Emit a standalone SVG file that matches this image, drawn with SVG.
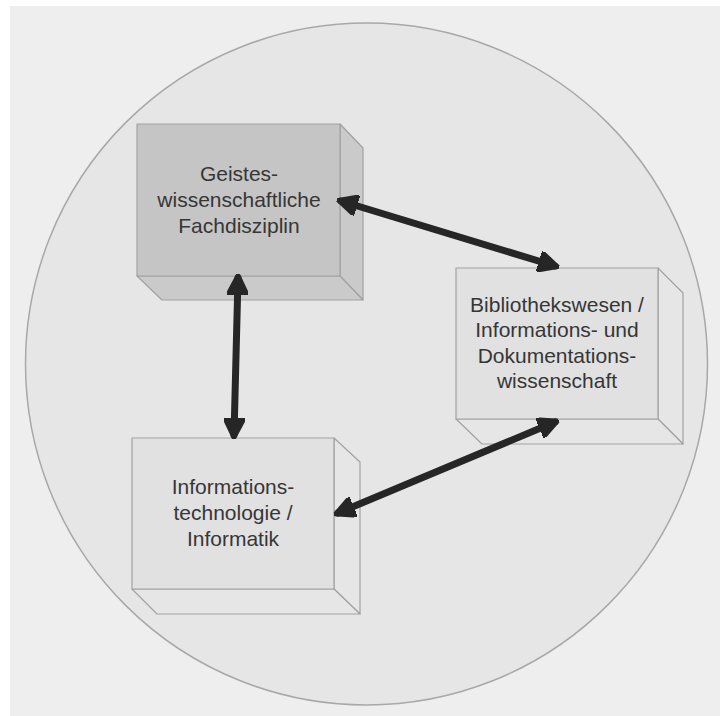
<svg xmlns="http://www.w3.org/2000/svg" width="720" height="716" viewBox="0 0 720 716">
<defs>
<style>
.face{stroke:#a2a2a2;stroke-width:1.2;stroke-linejoin:round}
.dark .front{fill:#c5c5c5}
.dark .side{fill:#cacaca}
.light .front{fill:#e1e1e1}
.light .side{fill:#e6e6e6}
.lbl{font-family:"Liberation Sans",Arial,sans-serif;font-size:21px;fill:#363636;text-anchor:middle}
.conn{stroke:#262626;stroke-width:7;fill:none;stroke-linecap:round}
</style>
<marker id="ah" viewBox="0 0 10 10" refX="8" refY="5" markerWidth="3" markerHeight="3" orient="auto-start-reverse" markerUnits="strokeWidth">
<path d="M0,0 L10,5 L0,10 z" fill="#262626" stroke="#262626" stroke-width="1.5" stroke-linejoin="round"/>
</marker>
</defs>
<rect x="0" y="0" width="720" height="716" fill="#ffffff"/>
<rect x="10" y="6" width="710" height="710" fill="#eeeeee"/>
<circle cx="366.5" cy="364" r="341" fill="#e6e6e6" stroke="#a8a8a8" stroke-width="1.5"/>

<g id="node-geistes" class="dark">
<polygon class="face side" points="340,124 363,148 363,300 340,276"/>
<polygon class="face side" points="137,276 340,276 363,300 162,300"/>
<rect class="face front" x="137" y="124" width="203" height="152"/>
<text class="lbl" x="239" y="181">Geistes-</text>
<text class="lbl" x="239" y="207">wissenschaftliche</text>
<text class="lbl" x="239" y="233">Fachdisziplin</text>
</g>

<g id="node-bibliothek" class="light">
<polygon class="face side" points="658,268 683,293 683,444 658,419"/>
<polygon class="face side" points="456,419 658,419 683,444 482,444"/>
<rect class="face front" x="456" y="268" width="202" height="151"/>
<text class="lbl" x="557" y="312">Bibliothekswesen /</text>
<text class="lbl" x="557" y="337">Informations- und</text>
<text class="lbl" x="557" y="363">Dokumentations-</text>
<text class="lbl" x="557" y="388">wissenschaft</text>
</g>

<g id="node-informatik" class="light">
<polygon class="face side" points="334,438 360,462 360,614 334,589"/>
<polygon class="face side" points="132,589 334,589 360,614 157,614"/>
<rect class="face front" x="132" y="438" width="202" height="151"/>
<text class="lbl" x="233" y="494">Informations-</text>
<text class="lbl" x="233" y="520">technologie /</text>
<text class="lbl" x="233" y="546">Informatik</text>
</g>

<g id="connectors">
<line class="conn" x1="341" y1="201" x2="555" y2="266" marker-start="url(#ah)" marker-end="url(#ah)"/>
<line class="conn" x1="238" y1="278" x2="234" y2="435" marker-start="url(#ah)" marker-end="url(#ah)"/>
<line class="conn" x1="555" y1="422" x2="338" y2="513" marker-start="url(#ah)" marker-end="url(#ah)"/>
</g>
</svg>
